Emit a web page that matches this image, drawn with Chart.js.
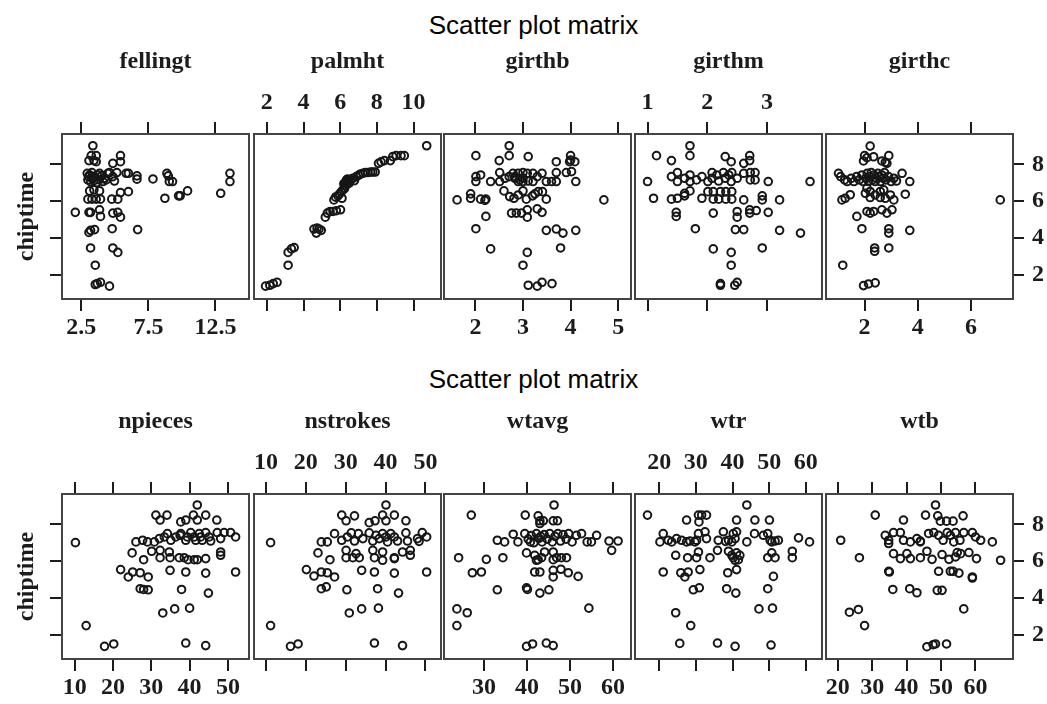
<!DOCTYPE html>
<html>
<head>
<meta charset="utf-8">
<title>Scatter plot matrix</title>
<script src="https://cdn.jsdelivr.net/npm/chart.js@4.4.1/dist/chart.umd.min.js"></script>
<style>
  html, body { margin: 0; padding: 0; background: #fff; }
  body { position: relative; width: 1047px; height: 704px; overflow: hidden; }
  .main-title {
    position: absolute; left: 0; width: 1067px; height: 30px;
    text-align: center; line-height: 30px;
    font: 26px 'Liberation Sans', Arial, sans-serif; color: #000;
  }
  canvas { position: absolute; }
</style>
</head>
<body>
<div class="main-title" style="top:10px">Scatter plot matrix</div>
<div class="main-title" style="top:364px">Scatter plot matrix</div>

<script>
// ---- data: y is chiptime in every panel ----
const yName = 'chiptime';
const yTicks = [2, 4, 6, 8];
const yRange = [0.67, 9.66];

const topNames = ['fellingt', 'palmht', 'girthb', 'girthm', 'girthc'];
const bottomNames = ['npieces', 'nstrokes', 'wtavg', 'wtr', 'wtb'];

const fellingtTicks = [2.5, 7.5, 12.5];
const palmhtTicks = [2, 4, 6, 8, 10];
const girthbTicks = [2, 3, 4, 5];
const girthmTicks = [1, 2, 3];
const girthcTicks = [2, 4, 6];
const npiecesTicks = [10, 20, 30, 40, 50];
const nstrokesTicks = [10, 20, 30, 40, 50];
const wtavgTicks = [30, 40, 50, 60];
const wtrTicks = [20, 30, 40, 50, 60];
const wtbTicks = [20, 30, 40, 50, 60];

const xRanges = {
  fellingt: [1.06, 15.0], palmht: [1.3, 11.5], girthb: [1.34, 5.27], girthm: [0.79, 3.92], girthc: [0.55, 7.58],
  npieces: [6.7, 55.5], nstrokes: [7.0, 53.9], wtavg: [20.7, 64.2], wtr: [13.4, 64.4], wtb: [16.6, 70.9]
};

const fellingt = [
  [3.36,9.02],[3.24,8.48],[3.61,8.48],[3.07,8.21],[3.44,8.21],[3.61,8.15],
  [2.94,7.52],[3.12,7.43],[3.29,7.56],[3.49,7.34],[3.69,7.43],[3.86,7.52],[4.03,7.38],[4.23,7.25],[2.99,7.16],[3.19,7.07],
  [3.44,7.12],[3.64,7.01],[3.83,7.16],[4.11,7.07],[4.35,7.16],[4.48,7.52],[3.29,7.25],[3.04,7.34],
  [3.12,6.56],[3.44,6.62],[3.86,6.56],[2.99,6.11],[3.29,6.11],[3.61,6.11],[3.93,6.11],
  [3.07,5.39],[3.19,5.39],[3.86,5.53],[3.93,5.17],
  [3.07,4.3],[3.19,4.41],[3.49,4.45],[3.19,3.45],[3.54,2.51],[3.54,1.46],[3.69,1.51],[3.93,1.58],[4.6,1.37],
  [4.85,8.06],[5.42,8.48],[5.42,8.15],[5.15,7.56],[4.6,7.56],[4.85,7.34],[4.97,7.1],[5.42,6.47],[4.77,6.11],[5.22,6.11],
  [6.01,6.52],[4.85,5.35],[5.22,5.39],[5.42,5.13],[4.8,4.5],[4.85,3.45],[5.22,3.21],[6.7,4.45],
  [5.84,7.52],[6.01,7.52],[6.65,7.38],[6.65,7.2],[7.84,7.21],[8.88,7.52],[8.98,7.38],[9.06,7.07],[9.3,7.07],
  [8.73,6.16],[9.75,6.29],[9.87,6.29],[10.42,6.56],[12.89,6.43],[13.58,7.52],[13.58,7.07],[2.05,5.39]
];

const palmht = [
  [1.93,1.37],[2.16,1.42],[2.35,1.51],[2.56,1.58],[3.16,2.51],[3.16,3.21],[3.34,3.4],[3.49,3.47],
  [4.57,4.48],[4.7,4.26],[4.85,4.48],[4.97,4.41],[4.74,4.53],
  [5.19,5.13],[5.3,5.35],[5.45,5.44],[5.61,5.44],[5.79,5.48],[6.02,5.53],
  [5.66,6.07],[5.75,6.22],[5.88,6.29],[5.97,6.4],[6.06,6.51],[6.1,6.16],[6.15,6.62],[6.24,6.69],
  [6.28,7.01],[6.35,7.16],[6.46,7.09],[6.57,7.16],[6.69,7.25],[6.78,7.12],[6.88,7.34],[7.0,7.41],[7.11,7.48],
  [7.24,7.52],[7.37,7.56],[7.51,7.56],[7.66,7.59],[7.78,7.59],[7.91,7.59],
  [6.24,6.83],[6.38,6.91],[6.49,6.98],[6.3,7.05],[6.4,7.2],[6.2,6.95],
  [8.09,8.06],[8.23,8.14],[8.41,8.21],[8.74,8.21],[8.87,8.43],[9.05,8.48],[9.32,8.48],[9.5,8.48],[10.72,9.02]
];

const girthb = [
  [2.71,9.02],[2.01,8.48],[2.71,8.48],[3.11,8.43],[2.5,8.21],[3.7,8.15],[4.0,8.48],[4.0,8.24],[4.09,8.15],[3.98,8.15],
  [2.01,7.34],[2.01,7.07],[2.11,7.43],[2.32,7.07],
  [2.51,7.56],[2.51,7.07],[2.62,7.25],[2.71,7.34],[2.79,7.52],[2.83,7.25],[2.9,7.52],[2.9,7.07],[3.0,7.56],[3.0,7.25],
  [3.0,7.07],[3.09,7.52],[3.11,7.1],[3.21,7.52],[3.21,7.07],[3.3,7.34],[3.4,7.52],[3.49,7.07],[3.6,7.07],[3.7,7.07],
  [3.7,7.56],[3.91,7.56],[4.02,7.61],[4.11,7.07],[2.83,7.34],[2.93,7.16],
  [2.6,6.56],[2.72,6.25],[2.81,6.16],[2.9,6.34],[3.0,6.56],[3.07,6.11],[3.2,6.29],[3.25,6.4],[3.32,6.52],[3.41,6.52],[3.49,6.11],
  [1.9,6.4],[1.9,6.16],[2.11,6.11],[2.22,6.11],[2.2,6.04],[1.615,6.07],[4.7,6.07],
  [2.76,5.35],[2.86,5.35],[2.97,5.35],[3.09,5.53],[3.09,5.13],[3.3,5.58],[3.4,5.39],[2.22,5.17],
  [2.01,4.5],[3.49,4.41],[3.7,4.48],[3.84,4.26],[4.11,4.41],
  [2.32,3.4],[3.09,3.21],[3.79,3.45],[3.0,2.51],
  [3.11,1.42],[3.3,1.37],[3.4,1.58],[3.61,1.51]
];

const girthm = [
  [1.71,9.02],[1.15,8.48],[1.71,8.48],[1.4,8.21],[2.3,8.43],[2.4,8.15],[2.61,8.06],[2.71,8.48],[2.71,8.21],
  [1.0,7.07],[3.72,7.07],
  [1.4,7.34],[1.5,7.56],[1.5,7.07],[1.62,7.25],[1.71,7.43],[1.71,7.07],[1.82,7.16],[1.91,7.34],[2.01,7.07],[2.08,7.56],
  [2.08,7.25],[2.16,7.43],[2.19,7.1],[2.27,7.56],[2.3,7.25],[2.36,7.43],[2.4,7.07],[2.41,7.56],[2.5,7.25],[2.61,7.52],
  [2.72,7.56],[2.72,7.16],[2.8,7.56],[2.8,7.16],[3.02,7.07],
  [1.1,6.16],[1.4,6.11],[1.5,6.16],[1.62,6.29],[1.62,6.43],[1.71,6.56],[1.91,6.16],[2.01,6.52],[2.1,6.52],[2.1,6.11],
  [2.19,6.11],[2.22,6.52],[2.31,6.52],[2.31,6.11],[2.41,6.52],[2.41,6.11],[2.61,6.07],[2.92,6.29],[2.92,6.07],[3.21,6.07],
  [1.48,5.39],[1.48,5.17],[2.1,5.35],[2.5,5.44],[2.5,5.13],[2.71,5.53],[2.71,5.35],[2.82,5.49],[3.02,5.39],
  [1.8,4.5],[2.47,4.45],[2.61,4.45],[3.21,4.41],[3.56,4.26],
  [2.1,3.4],[2.4,3.21],[2.92,3.45],[2.4,2.51],
  [2.22,1.51],[2.22,1.42],[2.46,1.42],[2.5,1.58]
];

const girthc = [
  [2.21,9.0],[2.0,8.48],[2.09,8.37],[2.34,8.42],[2.91,8.48],[1.96,8.19],[2.65,8.19],[2.78,8.12],[2.84,8.06],
  [1.02,7.52],[1.1,7.34],[1.25,7.16],[1.35,7.07],[1.5,7.25],[1.6,7.07],[1.7,7.34],[1.8,7.16],[1.9,7.43],[1.95,7.07],
  [2.05,7.25],[2.1,7.52],[2.15,7.07],[2.2,7.34],[2.25,7.56],[2.3,7.16],[2.35,7.43],[2.4,7.07],[2.45,7.25],[2.5,7.52],
  [2.55,7.34],[2.6,7.07],[2.65,7.43],[2.7,7.25],[2.75,7.56],[2.8,7.16],[2.9,7.34],[3.0,7.07],[3.1,7.25],[3.2,7.1],
  [3.41,7.52],[3.7,7.07],
  [2.09,6.71],[2.72,6.62],
  [1.15,6.07],[1.27,6.16],[1.46,6.35],[2.03,6.43],[2.21,6.53],[2.4,6.34],[2.59,6.53],[2.78,6.16],[2.97,6.34],[3.1,6.07],
  [2.21,6.2],[2.59,6.2],[3.53,6.38],[7.1,6.07],
  [1.71,5.17],[2.09,5.44],[2.21,5.35],[2.34,5.44],[2.65,5.53],[2.84,5.35],[3.03,5.53],
  [1.9,4.5],[2.91,4.5],[2.91,4.26],[3.7,4.41],
  [2.38,3.45],[2.38,3.27],[2.91,3.45],[1.18,2.51],
  [1.96,1.4],[2.15,1.49],[2.4,1.55]
];

const npieces = [
  [10.2,7.01],[13.0,2.49],[17.8,1.36],[20.2,1.49],[39.0,1.54],[44.2,1.4],
  [33.0,3.18],[36.1,3.4],[40.0,3.44],
  [27.1,4.5],[28.0,4.46],[29.2,4.44],[37.9,4.46],[44.9,4.26],
  [22.0,5.54],[24.0,5.14],[25.15,5.41],[27.1,5.37],[29.2,5.14],[34.9,5.5],[39.0,5.41],[44.2,5.35],[52.0,5.41],
  [25.0,6.45],[28.0,6.08],[30.1,6.54],[32.3,6.19],[34.9,6.19],[37.3,6.19],[38.6,6.19],[39.6,6.08],[41.2,6.08],
  [42.0,6.08],[44.2,6.14],[48.1,6.32],[48.1,6.5],[32.3,6.59],[34.7,6.5],
  [26.0,7.05],[27.75,7.14],[29.0,7.05],[30.8,7.05],[32.1,7.23],[33.4,7.32],[34.2,7.5],[35.1,7.14],[36.4,7.32],
  [37.7,7.5],[39.0,7.14],[40.3,7.56],[41.2,7.32],[42.5,7.5],[43.3,7.14],[44.2,7.56],[45.1,7.32],[45.5,7.1],
  [47.2,7.56],[48.1,7.23],[49.0,7.56],[50.7,7.56],[52.0,7.32],[37.5,7.41],[39.4,7.32],[41.6,7.14],[42.9,7.32],
  [31.2,8.51],[32.3,8.24],[34.1,8.51],[37.7,8.14],[39.0,8.24],[41.0,8.51],[42.0,8.24],[44.2,8.51],[47.1,8.24],[42.0,9.06]
];

const nstrokes = [
  [11.16,7.01],[11.16,2.49],[16.15,1.36],[18.06,1.49],[37.2,1.54],[44.25,1.4],
  [30.9,3.18],[34.0,3.4],[38.2,3.44],
  [23.88,4.5],[25.13,4.6],[30.3,4.44],[38.0,4.5],[43.25,4.26],
  [20.14,5.54],[22.05,5.19],[23.88,5.41],[25.38,5.37],[27.2,5.14],[34.0,5.5],[37.2,5.41],[42.2,5.35],[50.3,5.41],
  [23.05,6.45],[26.04,6.08],[30.1,6.19],[30.1,6.59],[31.8,6.19],[32.6,6.41],[33.4,6.19],[37.2,6.19],[39.26,6.05],
  [42.2,6.14],[42.2,6.19],[44.25,6.5],[46.2,6.59],[46.2,6.32],[39.26,6.5],[36.8,6.59],
  [23.88,7.05],[25.38,7.05],[27.2,7.5],[29.0,7.14],[30.4,7.32],[31.4,7.54],[32.2,7.1],[33.2,7.5],[34.3,7.23],
  [35.9,7.54],[36.8,7.1],[37.6,7.41],[38.4,7.23],[39.26,7.5],[40.1,7.32],[40.5,7.05],[41.3,7.5],[42.2,7.32],
  [43.0,7.1],[45.1,7.54],[45.5,7.1],[48.0,7.23],[48.4,7.08],[49.2,7.56],[50.3,7.32],
  [29.0,8.51],[30.1,8.2],[32.2,8.47],[35.9,8.1],[37.35,8.2],[39.26,8.51],[40.1,8.2],[42.2,8.51],[45.1,8.2],[40.1,9.06]
];

const wtavg = [
  [27.05,8.51],[23.7,3.4],[26.1,3.19],[23.7,2.49],[24.1,6.19],[27.3,5.37],[29.4,5.41],[30.55,6.1],[33.1,7.14],
  [34.8,7.05],[34.4,6.19],[33.1,4.44],[36.8,7.47],[37.9,7.05],
  [39.6,8.51],[42.6,8.47],[43.0,8.2],[43.0,8.05],[43.8,8.2],[46.1,8.2],[47.1,8.2],[46.3,9.06],
  [39.5,7.5],[40.3,7.2],[41.0,7.4],[41.6,7.0],[42.2,7.5],[42.8,7.25],[43.5,7.05],[44.0,7.45],[44.7,7.2],[45.3,7.5],
  [45.9,7.05],[46.5,7.35],[47.2,7.5],[47.8,7.1],[48.4,7.45],[49.1,7.2],[49.7,7.5],[50.5,7.05],[40.8,7.05],[43.2,7.35],
  [51.5,7.41],[52.7,7.5],[54.0,7.05],[55.0,7.05],[56.2,7.41],[59.1,7.1],[61.2,7.1],[59.7,6.59],
  [39.9,6.45],[41.8,6.32],[42.6,6.08],[43.4,6.19],[44.1,6.5],[46.1,6.5],[46.9,6.19],[48.0,6.19],[49.2,6.19],[46.1,6.08],[42.2,6.05],
  [41.8,5.41],[43.0,5.41],[46.1,5.5],[47.9,5.56],[46.1,5.14],[49.6,5.37],[51.9,5.17],
  [39.9,4.55],[40.1,4.46],[43.0,4.26],[45.1,4.44],[54.4,3.44],
  [39.9,1.36],[41.3,1.49],[44.5,1.54],[46.1,1.4]
];

const wtr = [
  [16.8,8.51],[43.9,9.06],[27.47,8.24],[30.7,8.51],[31.57,8.51],[32.9,8.51],[30.84,8.14],[41.1,8.24],[46.1,8.24],
  [50.06,8.24],[58.0,7.27],[61.0,7.05],[56.3,6.54],[56.3,6.19],
  [24.5,6.32],[27.75,6.19],[30.2,6.19],[30.7,6.5],[33.85,6.19],[35.9,6.59],[38.9,6.54],[39.8,6.32],[40.2,6.19],
  [41.6,6.08],[42.0,6.32],[49.6,6.19],[50.7,6.45],[51.6,6.19],[40.7,6.05],[41.1,6.45],
  [21.1,5.41],[25.9,5.37],[27.0,5.14],[27.9,5.41],[31.1,5.54],[38.7,5.37],[41.1,5.54],[51.15,5.17],
  [29.3,4.44],[30.93,4.55],[38.4,4.5],[40.9,4.26],[49.6,4.5],
  [24.5,3.19],[47.2,3.4],[50.9,3.44],[28.6,2.49],
  [25.6,1.52],[35.9,1.54],[40.7,1.36],[50.5,1.43],
  [20.2,7.05],[21.1,7.5],[22.46,7.14],[23.4,7.05],[24.74,7.23],[26.1,7.14],[27.47,7.05],[28.4,7.1],[30.2,7.14],
  [30.7,7.5],[32.5,7.6],[32.9,7.23],[36.1,7.14],[37.5,7.6],[38.9,7.14],[40.2,7.5],[40.7,7.23],[41.1,7.6],[43.9,7.05],
  [46.0,7.5],[48.4,7.41],[49.6,7.5],[50.24,7.14],[50.7,7.05],[51.6,7.1],[52.5,7.14],[38.1,7.08],[39.8,7.05],[29.75,7.05]
];

const wtb = [
  [20.87,7.14],[26.3,6.19],[23.4,3.22],[26.0,3.37],[27.8,2.49],[30.9,8.51],[39.1,8.24],[45.5,8.51],[49.05,8.47],
  [48.4,9.06],[49.8,8.18],[51.6,8.18],[53.5,8.18],[56.4,8.47],
  [33.8,7.41],[34.8,7.14],[36.2,7.56],[38.2,7.56],[39.1,7.14],[41.1,7.05],[43.0,7.23],[44.0,7.09],[46.4,7.51],
  [47.9,7.56],[49.3,7.41],[50.6,7.14],[51.8,7.56],[52.7,7.41],[54.2,7.56],[55.5,7.14],[56.6,7.56],[59.1,7.56],
  [60.0,7.32],[61.5,7.14],[64.9,7.05],[34.8,6.96],[44.0,7.05],[53.7,7.05],
  [36.2,6.41],[38.2,6.14],[40.1,6.41],[41.1,6.14],[44.0,6.19],[45.9,6.54],[47.4,6.1],[50.3,6.36],[52.3,6.1],
  [54.2,6.23],[55.7,6.41],[58.1,6.47],[60.3,6.14],[67.3,6.05],[54.7,6.47],
  [34.8,5.45],[35.0,5.41],[36.0,4.46],[40.9,4.5],[43.0,4.28],[48.9,4.41],[50.3,4.41],[49.3,5.45],[52.7,5.45],
  [53.5,5.45],[55.2,5.35],[59.1,5.14],[59.1,5.08],
  [56.6,3.4],[45.9,1.34],[47.7,1.45],[48.4,1.49],[51.6,1.49]
];

const panelRows = [
  [[fellingt, fellingtTicks], [palmht, palmhtTicks], [girthb, girthbTicks], [girthm, girthmTicks], [girthc, girthcTicks]],
  [[npieces, npiecesTicks], [nstrokes, nstrokesTicks], [wtavg, wtavgTicks], [wtr, wtrTicks], [wtb, wtbTicks]]
];
const rowNames = [topNames, bottomNames];

// ---- layout ----
const FRAME_LEFTS = [62, 254, 444, 635, 826];
const FRAME_W = 187, FRAME_H = 165;
const ROW_TOPS = [134, 494];
const PAD_T = 100, PAD_B = 46;
const INK = '#1c1c1c', FRAME = '#444';
const serif = { family: "'Liberation Serif', 'Times New Roman', serif", size: 24, weight: 'bold' };

const ticksAt = values => scale => { scale.ticks = values.map(value => ({ value })); };
const fixSize = size => scale => {
  if (scale.isHorizontal()) scale.height = size; else scale.width = size;
};

function xAxis(position, range, tickValues, showLabels, size, title) {
  return {
    type: 'linear', axis: 'x', position,
    min: range[0], max: range[1],
    afterBuildTicks: ticksAt(tickValues),
    afterFit: fixSize(size),
    grid: { drawOnChartArea: false, drawTicks: true, tickLength: 12, color: INK, lineWidth: 2 },
    border: { display: true, color: FRAME, width: 2 },
    ticks: {
      display: showLabels, font: serif, color: INK,
      padding: position === 'top' ? 5 : 2,
      maxRotation: 0, autoSkip: false, callback: v => String(v)
    },
    title: title
      ? { display: true, text: title, font: serif, color: INK, padding: { top: 13, bottom: 0 } }
      : { display: false }
  };
}

function yAxis(position, withTicks, showLabels, size, title) {
  return {
    type: 'linear', axis: 'y', position,
    min: yRange[0], max: yRange[1],
    afterBuildTicks: ticksAt(yTicks),
    afterFit: fixSize(size),
    grid: { drawOnChartArea: false, drawTicks: withTicks, tickLength: position === 'left' ? 12 : 11, color: INK, lineWidth: 2 },
    border: { display: true, color: FRAME, width: 2 },
    ticks: { display: showLabels, font: serif, color: INK, padding: 8, autoSkip: false, callback: v => String(v) },
    title: title
      ? { display: true, text: title, font: serif, color: INK, padding: { top: 12, bottom: 0 } }
      : { display: false }
  };
}

function drawPanel(row, col) {
  const [points, tickValues] = panelRows[row][col];
  const name = rowNames[row][col];
  const first = col === 0, last = col === 4;
  const L = first ? 62 : 14, R = last ? 36 : 14;
  const w = L + FRAME_W + R, h = PAD_T + FRAME_H + PAD_B;

  const canvas = document.createElement('canvas');
  canvas.width = w; canvas.height = h;
  canvas.style.left = (FRAME_LEFTS[col] - L) + 'px';
  canvas.style.top = (ROW_TOPS[row] - PAD_T) + 'px';
  canvas.style.width = w + 'px';
  canvas.style.height = h + 'px';
  document.body.appendChild(canvas);

  const labelsOnTop = col % 2 === 1;
  const range = xRanges[name];

  new Chart(canvas, {
    type: 'scatter',
    data: {
      datasets: [{
        label: name,
        data: points.map(([x, y]) => ({ x, y })),
        pointStyle: 'circle',
        pointRadius: 3.8,
        pointBorderWidth: 2,
        pointBorderColor: '#161616',
        pointBackgroundColor: 'rgba(0,0,0,0)'
      }]
    },
    options: {
      responsive: false, animation: false, events: [],
      layout: { padding: 0, autoPadding: false },
      plugins: { legend: { display: false }, tooltip: { enabled: false } },
      scales: {
        x: xAxis('bottom', range, tickValues, !labelsOnTop, PAD_B, null),
        x2: xAxis('top', range, tickValues, labelsOnTop, PAD_T, name),
        y: yAxis('left', first, false, L, first ? yName : null),
        y2: yAxis('right', last, last, R, null)
      }
    }
  });
}

for (let row = 0; row < 2; row++) {
  for (let col = 0; col < 5; col++) drawPanel(row, col);
}
</script>
</body>
</html>
